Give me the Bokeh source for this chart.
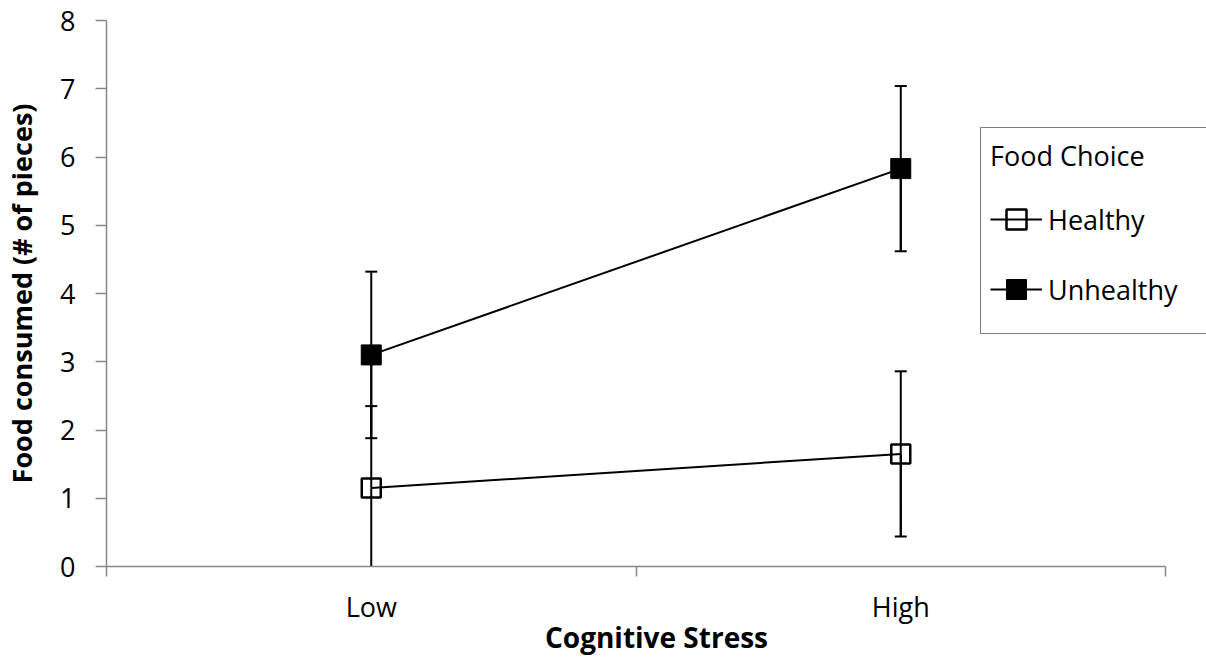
from bokeh.plotting import figure
from bokeh.models import (Range1d, FixedTicker, Whisker, TeeHead, ColumnDataSource,
                          Legend, LegendItem)
from bokeh.embed import file_html
from bokeh.resources import INLINE

# ---- data ----
categories = ["Low", "High"]
healthy_mean = [1.15, 1.65]
healthy_err = [1.20, 1.21]
unhealthy_mean = [3.10, 5.83]
unhealthy_err = [1.22, 1.21]
y_ticks = [0, 1, 2, 3, 4, 5, 6, 7, 8]

FONT = "Open Sans"
AX_GRAY = "#868686"

xs = [i + 0.5 for i in range(len(categories))]
boundaries = list(range(len(categories) + 1))

p = figure(width=1206, height=658,
           x_range=Range1d(0, 2.0774), y_range=Range1d(0, 8),
           output_backend="svg", toolbar_location=None,
           min_border_left=106, min_border_top=20, min_border_bottom=92,
           min_border_right=0)
p.outline_line_color = None
p.grid.visible = False
p.background_fill_color = "white"
p.border_fill_color = "white"

# x axis
xa = p.xaxis[0]
xa.ticker = FixedTicker(ticks=xs, minor_ticks=boundaries)
xa.major_label_overrides = {x: c for x, c in zip(xs, categories)}
xa.major_tick_out = 0
xa.major_tick_in = 0
xa.minor_tick_out = 10
xa.minor_tick_in = 0
xa.minor_tick_line_color = AX_GRAY
xa.minor_tick_line_width = 1.5
xa.axis_line_color = AX_GRAY
xa.axis_line_width = 1.5
xa.bounds = (boundaries[0], boundaries[-1])
xa.major_label_text_font = FONT
xa.major_label_text_font_size = "27px"
xa.major_label_text_color = "black"
xa.major_label_standoff = 11
xa.axis_label = "Cognitive Stress"
xa.axis_label_text_font = FONT
xa.axis_label_text_font_size = "28px"
xa.axis_label_text_font_style = "bold"
xa.axis_label_text_color = "black"
xa.axis_label_standoff = -10

# y axis
ya = p.yaxis[0]
ya.ticker = FixedTicker(ticks=y_ticks, minor_ticks=[])
ya.major_tick_out = 11
ya.major_tick_in = 0
ya.major_tick_line_color = AX_GRAY
ya.major_tick_line_width = 1.5
ya.axis_line_color = AX_GRAY
ya.axis_line_width = 1.5
ya.major_label_text_font = FONT
ya.major_label_text_font_size = "27px"
ya.major_label_text_color = "black"
ya.major_label_standoff = 20
ya.axis_label = "Food consumed (# of pieces)"
ya.axis_label_text_font = FONT
ya.axis_label_text_font_size = "27px"
ya.axis_label_text_font_style = "bold"
ya.axis_label_text_color = "black"
ya.axis_label_standoff = 17


def add_errors(means, errs):
    upper = [m + e for m, e in zip(means, errs)]
    lower = [max(0.0, m - e) for m, e in zip(means, errs)]
    src = ColumnDataSource(dict(x=xs, upper=upper, lower=lower, mean=means))
    p.add_layout(Whisker(source=src, base="x", upper="upper", lower="lower",
                         line_color="black", line_width=2,
                         upper_head=TeeHead(size=12, line_color="black", line_width=2),
                         lower_head=None))
    keep = [i for i, (m, e) in enumerate(zip(means, errs)) if m - e > 0]
    src2 = ColumnDataSource(dict(x=[xs[i] for i in keep],
                                 lower=[lower[i] for i in keep],
                                 mean=[means[i] for i in keep]))
    p.add_layout(Whisker(source=src2, base="x", upper="mean", lower="lower",
                         line_color="black", line_width=2,
                         lower_head=TeeHead(size=12, line_color="black", line_width=2),
                         upper_head=None))


add_errors(healthy_mean, healthy_err)
add_errors(unhealthy_mean, unhealthy_err)

hl = p.line(xs, healthy_mean, line_color="black", line_width=2)
hs = p.scatter(xs, healthy_mean, marker="square", size=19, fill_color=None,
               line_color="black", line_width=2.5)
ul = p.line(xs, unhealthy_mean, line_color="black", line_width=2)
us = p.scatter(xs, unhealthy_mean, marker="square", size=20, fill_color="black",
               line_color="black", line_width=1)

legend = Legend(items=[LegendItem(label="Healthy", renderers=[hl, hs]),
                       LegendItem(label="Unhealthy", renderers=[ul, us])],
                title="Food Choice", location=(874, 232))
legend.title_text_font = FONT
legend.title_text_font_size = "27px"
legend.title_text_font_style = "normal"
legend.title_text_color = "black"
legend.title_standoff = 10
legend.label_text_font = FONT
legend.label_text_font_size = "27px"
legend.label_text_color = "black"
legend.glyph_width = 52
legend.glyph_height = 50
legend.label_height = 70
legend.label_width = 152
legend.spacing = 0
legend.padding = 9
legend.label_standoff = 6
legend.margin = 0
legend.border_line_color = "black"
legend.border_line_width = 1.5
legend.background_fill_color = "white"
legend.background_fill_alpha = 1
p.add_layout(legend, "center")

open("out.html", "w").write(file_html(p, INLINE))
